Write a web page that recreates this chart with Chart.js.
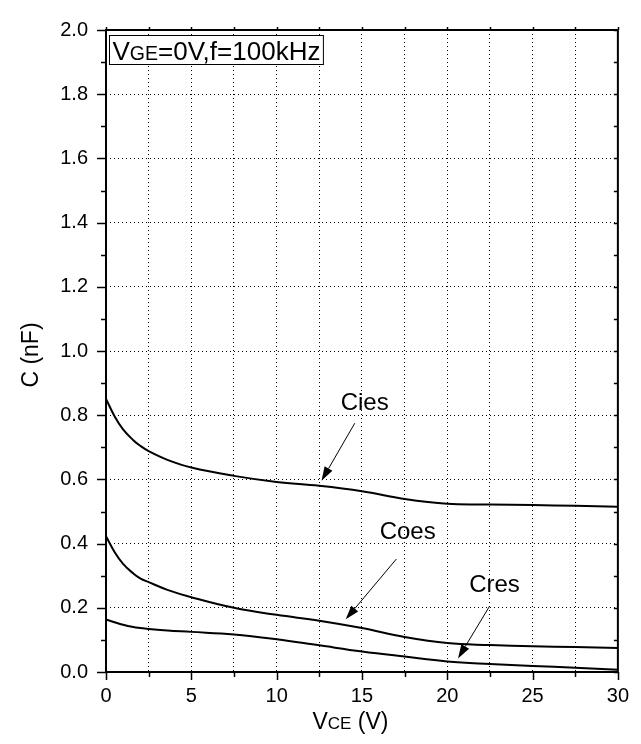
<!DOCTYPE html>
<html>
<head>
<meta charset="utf-8">
<script src="https://cdn.jsdelivr.net/npm/chart.js@4.4.0/dist/chart.umd.min.js"></script>
<style>
html, body { margin: 0; padding: 0; background: #fff; }
#wrap { width: 641px; height: 744px; position: relative; }
</style>
</head>
<body>
<div id="wrap"><canvas id="cap-chart"></canvas></div>
<script>
// 电容-电压特性曲线 (VGE=0V, f=100kHz)

const vce  = [0, 0.5, 1, 1.6, 2, 2.5, 3.6, 5, 7.5, 10, 12.5, 15, 17.5, 20, 22.5, 25, 27.5, 30];
const cies = [0.851, 0.797, 0.756, 0.722, 0.705, 0.688, 0.661, 0.637, 0.611, 0.592, 0.580, 0.563, 0.539, 0.524, 0.522, 0.520, 0.518, 0.515];
const coes = [0.423, 0.374, 0.337, 0.307, 0.292, 0.280, 0.256, 0.233, 0.200, 0.178, 0.160, 0.137, 0.109, 0.090, 0.084, 0.080, 0.078, 0.075];
const cres = [0.164, 0.155, 0.147, 0.140, 0.137, 0.134, 0.129, 0.125, 0.117, 0.102, 0.083, 0.064, 0.048, 0.033, 0.025, 0.019, 0.013, 0.007];

// 曲线标注 (文字位置与箭头, 数据坐标)
const noteLabels = ['Cies', 'Coes', 'Cres'];
const noteTextX  = [15.16, 17.68, 22.77];
const noteTextY  = [0.837, 0.436, 0.269];
const arrowFromX = [14.58, 17.02, 22.48];
const arrowFromY = [0.775, 0.352, 0.205];
const arrowToX   = [12.63, 14.05, 20.63];
const arrowToY   = [0.596, 0.164, 0.042];

const FONT = '"Liberation Sans", Arial, sans-serif';

function toPoints(ys) {
    return vce.map((x, i) => ({ x: x, y: ys[i] }));
}

function isMajorY(v) {
    return Math.round(v * 10) % 2 === 0;
}

// 画一段带下标的文字, 返回宽度
function drawParts(ctx, parts, x, y, measureOnly) {
    let w = 0;
    parts.forEach(p => {
        ctx.font = p[1] + 'px ' + FONT;
        if (!measureOnly) ctx.fillText(p[0], x + w, y);
        w += ctx.measureText(p[0]).width;
    });
    return w;
}

// 坐标框, 刻度, 标注, 轴标题
const decorPlugin = {
    id: 'decor',
    afterDraw(chart) {
        const ctx = chart.ctx;
        const a = chart.chartArea;
        const xs = chart.scales.x;
        const ys = chart.scales.y;
        ctx.save();
        ctx.strokeStyle = '#000';
        ctx.fillStyle = '#000';

        // 刻度线
        ctx.lineWidth = 1.5;
        ctx.beginPath();
        xs.ticks.forEach(t => {
            const px = Math.round(xs.getPixelForValue(t.value)) + 0.5;
            const major = t.value % 5 === 0;
            ctx.moveTo(px, a.bottom);
            ctx.lineTo(px, a.bottom + (major ? 8 : 5));
            ctx.moveTo(px, a.top);
            ctx.lineTo(px, a.top - 3);
        });
        ys.ticks.forEach(t => {
            const py = Math.round(ys.getPixelForValue(t.value)) + 0.5;
            const major = isMajorY(t.value);
            ctx.moveTo(a.left, py);
            ctx.lineTo(a.left - (major ? 9 : 5), py);
            ctx.moveTo(a.right, py);
            ctx.lineTo(a.right - 4, py);
        });
        ctx.stroke();

        // 外框
        ctx.lineWidth = 2;
        ctx.strokeRect(a.left, a.top, a.right - a.left, a.bottom - a.top);

        // 标注文字和箭头
        ctx.font = '24px ' + FONT;
        ctx.textAlign = 'center';
        ctx.textBaseline = 'middle';
        noteLabels.forEach((label, i) => {
            ctx.fillText(label, xs.getPixelForValue(noteTextX[i]), ys.getPixelForValue(noteTextY[i]));
            const x0 = xs.getPixelForValue(arrowFromX[i]);
            const y0 = ys.getPixelForValue(arrowFromY[i]);
            const x1 = xs.getPixelForValue(arrowToX[i]);
            const y1 = ys.getPixelForValue(arrowToY[i]);
            const ang = Math.atan2(y1 - y0, x1 - x0);
            const len = 14, half = 4.5;
            const bx = x1 - len * Math.cos(ang);
            const by = y1 - len * Math.sin(ang);
            ctx.lineWidth = 1;
            ctx.beginPath();
            ctx.moveTo(x0, y0);
            ctx.lineTo(bx, by);
            ctx.stroke();
            ctx.beginPath();
            ctx.moveTo(x1, y1);
            ctx.lineTo(bx + half * Math.sin(ang), by - half * Math.cos(ang));
            ctx.lineTo(bx - half * Math.sin(ang), by + half * Math.cos(ang));
            ctx.closePath();
            ctx.fill();
        });

        // 条件说明框
        ctx.textAlign = 'left';
        ctx.textBaseline = 'alphabetic';
        const boxParts = [['V', 26], ['GE', 19.5], ['=0V,f=100kHz', 26]];
        const bx0 = a.left + 3, by0 = a.top + 5;
        const w = drawParts(ctx, boxParts, 0, 0, true);
        ctx.fillStyle = '#fff';
        ctx.fillRect(bx0, by0, w + 7, 30);
        ctx.lineWidth = 1;
        ctx.strokeRect(bx0 + 0.5, by0 + 0.5, w + 6, 29);
        ctx.fillStyle = '#000';
        drawParts(ctx, boxParts, bx0 + 3.5, by0 + 25, false);

        // x 轴标题 VCE (V)
        const xParts = [['V', 23], ['CE', 17], [' (V)', 23]];
        const xw = drawParts(ctx, xParts, 0, 0, true);
        drawParts(ctx, xParts, (a.left + a.right) / 2 - 11.5 - xw / 2, 729, false);

        // y 轴标题 C (nF)
        ctx.translate(38, (a.top + a.bottom) / 2 + 4);
        ctx.rotate(-Math.PI / 2);
        ctx.font = '23px ' + FONT;
        ctx.textAlign = 'center';
        ctx.fillText('C (nF)', 0, 0);
        ctx.restore();
    }
};

const seriesStyle = {
    borderColor: '#000',
    borderWidth: 2,
    pointRadius: 0,
    fill: false,
    tension: 0.4
};

new Chart(document.getElementById('cap-chart'), {
    type: 'line',
    data: {
        datasets: [
            Object.assign({ label: 'Cies', data: toPoints(cies) }, seriesStyle),
            Object.assign({ label: 'Coes', data: toPoints(coes) }, seriesStyle),
            Object.assign({ label: 'Cres', data: toPoints(cres) }, seriesStyle)
        ]
    },
    options: {
        responsive: true,
        maintainAspectRatio: false,
        animation: false,
        layout: {
            padding: { left: 0, right: 23, top: 17, bottom: 0 }
        },
        plugins: {
            legend: { display: false },
            tooltip: { enabled: false }
        },
        scales: {
            x: {
                type: 'linear',
                min: 0,
                max: 30,
                afterFit: scale => { scale.height = 72; },
                ticks: {
                    stepSize: 2.5,
                    autoSkip: false,
                    maxRotation: 0,
                    padding: 12,
                    color: '#000',
                    font: { family: FONT, size: 20 },
                    callback: v => (v % 5 === 0 ? v : '')
                },
                grid: {
                    color: '#000',
                    lineWidth: 1,
                    drawTicks: false
                },
                border: { display: false, dash: [1, 3] }
            },
            y: {
                min: 0,
                max: 2,
                afterFit: scale => { scale.width = 106; },
                ticks: {
                    stepSize: 0.1,
                    autoSkip: false,
                    padding: 18,
                    color: '#000',
                    font: { family: FONT, size: 20 },
                    callback: v => (isMajorY(v) ? v.toFixed(1) : '')
                },
                grid: {
                    color: c => (isMajorY(c.tick.value) ? '#000' : 'rgba(0,0,0,0)'),
                    lineWidth: 1,
                    drawTicks: false
                },
                border: { display: false, dash: [1, 3] }
            }
        }
    },
    plugins: [decorPlugin]
});
</script>
</body>
</html>
